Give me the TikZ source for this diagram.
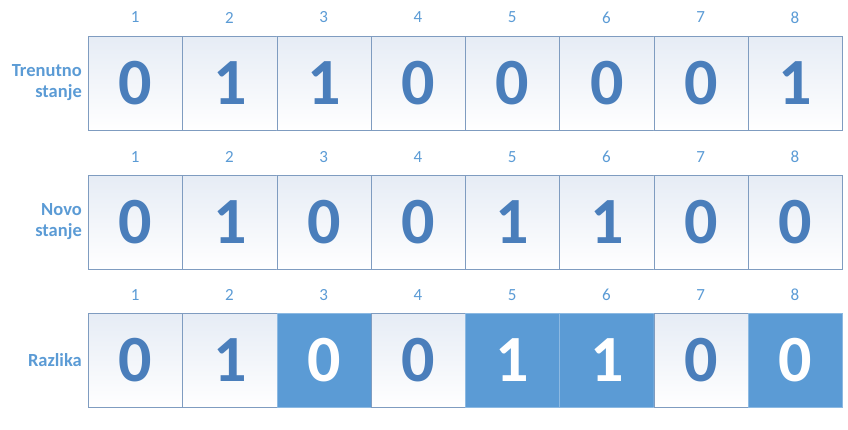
\documentclass[tikz,border=0pt]{standalone}
\usepackage{fontspec}
\setmainfont{Carlito}
\definecolor{digit}{HTML}{4A7EBB}
\definecolor{idx}{HTML}{5B9BD5}
\definecolor{lbl}{HTML}{5B9BD5}
\definecolor{cellborder}{HTML}{7F9CC0}
\definecolor{fillblue}{HTML}{5B9BD5}
\definecolor{celltop}{HTML}{E6ECF5}
\tikzset{
  cell/.style={draw=cellborder, line width=0.9pt, minimum width=94.25pt, minimum height=94pt, inner sep=0pt, anchor=north west, top color=celltop, bottom color=white, shading angle=0},
  hot/.style={draw=fillblue!70!white, line width=0.9pt, minimum width=94.25pt, minimum height=94pt, inner sep=0pt, anchor=north west, fill=fillblue},
  dig/.style={font=\fontsize{66}{66}\selectfont\bfseries, text=digit, inner sep=0pt},
  hotdig/.style={font=\fontsize{66}{66}\selectfont\bfseries, text=white, inner sep=0pt},
  idxlbl/.style={font=\fontsize{17}{17}\selectfont, text=idx, inner sep=0pt},
  rowlbl/.style={font=\fontsize{18.5}{21}\selectfont\bfseries, text=lbl, align=right, anchor=east, inner sep=0pt},
}
\begin{document}
\begin{tikzpicture}[x=1pt,y=-1pt]
\useasboundingbox (0,0) rectangle (848,429);
\def\rowA{0,1,1,0,0,0,0,1}
\def\rowB{0,1,0,0,1,1,0,0}
% row 1
\foreach \v [count=\i] in \rowA {
  \node[cell] (a\i) at ({88+94.25*(\i-1)},36) {};
  \node[dig] (ad\i) at (a\i.center) {\v};
  \node[idxlbl] (ai\i) at ({88+94.25*(\i-1)+47.1},17.5) {\i};
}
% row 2
\foreach \v [count=\i] in \rowB {
  \node[cell] (b\i) at ({88+94.25*(\i-1)},175) {};
  \node[dig] (bd\i) at (b\i.center) {\v};
  \node[idxlbl] (bi\i) at ({88+94.25*(\i-1)+47.1},157) {\i};
}
% row 3
\foreach \v/\h [count=\i] in {0/0,1/0,0/1,0/0,1/1,1/1,0/0,0/1} {
  \ifnum\h=1
    \node[hot] (c\i) at ({88+94.25*(\i-1)},313) {};
    \node[hotdig] (cd\i) at (c\i.center) {\v};
  \else
    \node[cell] (c\i) at ({88+94.25*(\i-1)},313) {};
    \node[dig] (cd\i) at (c\i.center) {\v};
  \fi
  \node[idxlbl] (ci\i) at ({88+94.25*(\i-1)+47.1},295) {\i};
}
\node[rowlbl] (la) at (82,83) {Trenutno\\stanje};
\node[rowlbl] (lb) at (82,222) {Novo\\stanje};
\node[rowlbl] (lc) at (82,360) {Razlika};
\end{tikzpicture}
\end{document}
